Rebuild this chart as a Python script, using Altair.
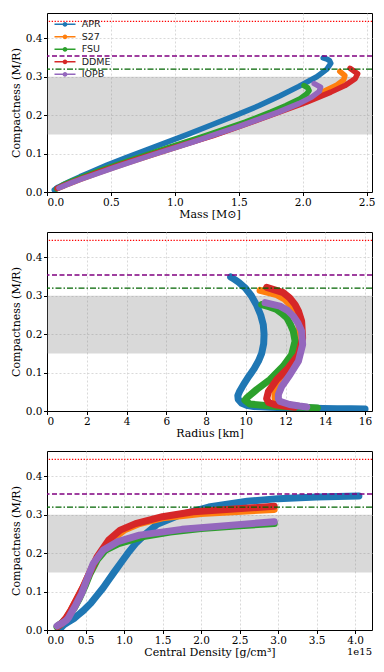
import altair as alt
import pandas as pd

EOS_NAMES = ["APR", "S27", "FSU", "DDME", "IOPB"]
EOS_COLORS = ["#1f77b4", "#ff7f0e", "#2ca02c", "#d62728", "#9467bd"]

# compactness C, mass M [Msun], radius R [km], central density rho [1e15 g/cm^3]
APR_C = [0.0053, 0.0057, 0.0060, 0.0065, 0.0075, 0.0085, 0.0095, 0.0115, 0.014,
         0.02, 0.03, 0.04, 0.05, 0.07, 0.09, 0.11, 0.13, 0.15,
         0.175, 0.2, 0.225, 0.25, 0.275, 0.3, 0.32, 0.335, 0.342, 0.346, 0.349]
APR_M = [0.057, 0.059, 0.059, 0.061, 0.066, 0.070, 0.072, 0.081, 0.096,
         0.133, 0.195, 0.26, 0.33, 0.47, 0.62, 0.78, 0.94, 1.10,
         1.29, 1.48, 1.66, 1.82, 1.97, 2.11, 2.19, 2.22, 2.21, 2.19, 2.16]
APR_R = [16.0, 15.3, 14.6, 13.9, 13.0, 12.2, 11.2, 10.4, 10.1,
         9.8, 9.62, 9.6, 9.68, 9.9, 10.15, 10.42, 10.64, 10.8,
         10.9, 10.92, 10.88, 10.75, 10.55, 10.28, 9.98, 9.65, 9.45, 9.33, 9.24]
APR_RHO = [0.17, 0.175, 0.18, 0.185, 0.19, 0.195, 0.20, 0.21, 0.22,
           0.27, 0.35, 0.41, 0.47, 0.57, 0.65, 0.73, 0.80, 0.87,
           0.96, 1.05, 1.15, 1.28, 1.43, 1.73, 2.1, 2.6, 3.0, 3.5, 4.05]

S27_C = [0.011, 0.014, 0.02, 0.034, 0.051, 0.077, 0.112, 0.156, 0.199, 0.234, 0.26, 0.277, 0.292, 0.303, 0.314]
S27_M = [0.095, 0.118, 0.16, 0.27, 0.41, 0.64, 0.97, 1.37, 1.73, 2.0, 2.15, 2.26, 2.32, 2.33, 2.29]
S27_R = [12.8, 12.4, 11.8, 11.47, 11.47, 11.72, 12.23, 12.6, 12.73, 12.65, 12.42, 12.23, 11.95, 11.56, 10.72]
S27_RHO = [0.15, 0.17, 0.21, 0.26, 0.31, 0.38, 0.47, 0.57, 0.69, 0.83, 1.0, 1.2, 1.5, 2.0, 2.95]

FSU_C = [0.008, 0.0097, 0.012, 0.018, 0.028, 0.034, 0.056, 0.082, 0.117, 0.147, 0.182, 0.208, 0.225, 0.243, 0.255, 0.264, 0.271, 0.277]
FSU_M = [0.074, 0.085, 0.094, 0.124, 0.19, 0.235, 0.41, 0.64, 0.96, 1.24, 1.55, 1.75, 1.87, 1.98, 2.03, 2.05, 2.04, 2.01]
FSU_R = [13.6, 12.9, 11.56, 10.2, 9.96, 10.05, 10.55, 11.22, 11.89, 12.31, 12.48, 12.39, 12.25, 12.06, 11.8, 11.56, 11.2, 10.8]
FSU_RHO = [0.13, 0.14, 0.15, 0.19, 0.24, 0.27, 0.35, 0.42, 0.50, 0.56, 0.65, 0.76, 0.93, 1.25, 1.6, 2.0, 2.45, 2.95]

DDME_C = [0.0095, 0.012, 0.016, 0.022, 0.032, 0.051, 0.082, 0.112, 0.147, 0.19, 0.234, 0.26, 0.277, 0.295, 0.308, 0.322]
DDME_M = [0.080, 0.098, 0.125, 0.17, 0.245, 0.40, 0.67, 0.96, 1.30, 1.67, 2.03, 2.22, 2.33, 2.41, 2.43, 2.37]
DDME_R = [12.45, 12.0, 11.5, 11.15, 11.05, 11.14, 11.56, 12.14, 12.65, 12.86, 12.81, 12.65, 12.48, 12.2, 11.89, 11.05]
DDME_RHO = [0.14, 0.16, 0.18, 0.21, 0.25, 0.31, 0.39, 0.47, 0.55, 0.65, 0.8, 0.95, 1.15, 1.5, 1.9, 2.95]

IOPB_C = [0.0105, 0.013, 0.017, 0.025, 0.032, 0.043, 0.064, 0.095, 0.13, 0.173, 0.208, 0.23, 0.247, 0.262, 0.273, 0.282]
IOPB_M = [0.093, 0.112, 0.140, 0.20, 0.255, 0.35, 0.53, 0.81, 1.14, 1.52, 1.81, 1.97, 2.07, 2.13, 2.14, 2.09]
IOPB_R = [13.07, 12.7, 12.2, 11.72, 11.64, 11.64, 11.81, 12.23, 12.65, 12.86, 12.81, 12.62, 12.39, 12.1, 11.72, 10.97]
IOPB_RHO = [0.13, 0.15, 0.19, 0.25, 0.28, 0.31, 0.37, 0.45, 0.515, 0.60, 0.73, 0.92, 1.2, 1.75, 2.4, 2.95]

# reference compactness lines and band
LIMIT_Y = [0.444, 0.354, 0.32]
BAND_Y = [0.15, 0.30]

SERIES = {
    "APR": (APR_C, APR_M, APR_R, APR_RHO),
    "S27": (S27_C, S27_M, S27_R, S27_RHO),
    "FSU": (FSU_C, FSU_M, FSU_R, FSU_RHO),
    "DDME": (DDME_C, DDME_M, DDME_R, DDME_RHO),
    "IOPB": (IOPB_C, IOPB_M, IOPB_R, IOPB_RHO),
}

rows = []
for name in EOS_NAMES:
    C, M, R, RHO = SERIES[name]
    for i in range(len(C)):
        rows.append({"eos": name, "i": i, "C": C[i], "M": M[i], "R": R[i], "rho": RHO[i]})
df = pd.DataFrame(rows)

W, H = 325, 179
YMAX = 0.466
yscale = alt.Scale(domain=[0, YMAX], nice=False, zero=False)
cscale = alt.Scale(domain=EOS_NAMES, range=EOS_COLORS)

LEGEND_PATH = ("M-1.75,-0.125L1.75,-0.125L1.75,0.125L-1.75,0.125Z"
               "M0.4,0A0.4,0.4,0,1,1,-0.4,0A0.4,0.4,0,1,1,0.4,0Z")

lim_styles = [("red", [1.3, 1.6]), ("purple", [5, 2.5]), ("darkgreen", [6, 2, 1.5, 2])]

YAXIS = alt.Axis(values=[0, 0.1, 0.2, 0.3, 0.4], format=".1f",
                 title="Compactness (M/R)", titlePadding=4, grid=True)


def panel(xfield, xtitle, xmax, xvals, xfmt, lw, legend=False, offset_text=None):
    xscale = alt.Scale(domain=[0, xmax], nice=False, zero=False)
    xaxis = alt.Axis(values=xvals, format=xfmt, title=xtitle, titlePadding=1,
                     grid=True)
    band_df = pd.DataFrame({"lo": [BAND_Y[0]], "hi": [BAND_Y[1]]})
    band = alt.Chart(band_df).mark_rect(color="#808080", opacity=0.3).encode(
        x=alt.value(0), x2=alt.value(W),
        y=alt.Y("lo:Q", scale=yscale, axis=YAXIS), y2="hi:Q")
    layers = [band]
    if legend:
        pts = alt.Chart(df).mark_point(filled=True, size=10, opacity=1).encode(
            x=alt.X(f"{xfield}:Q", scale=xscale, axis=xaxis),
            y=alt.Y("C:Q", scale=yscale, axis=YAXIS),
            color=alt.Color("eos:N", scale=cscale, sort=EOS_NAMES, legend=alt.Legend(
                title=None, orient="none", legendX=12, legendY=5.3,
                symbolType=LEGEND_PATH, symbolSize=144, symbolStrokeWidth=0,
                labelFont="DejaVu Sans", labelFontSize=9.5, labelColor="#222",
                labelOffset=10.7, rowPadding=1.5, padding=0)))
        layers.append(pts)
    for k, name in enumerate(EOS_NAMES):
        ln = alt.Chart(df).transform_filter(alt.datum.eos == name).mark_line(
            color=EOS_COLORS[k], strokeWidth=lw, strokeCap="round",
            strokeJoin="round", clip=True).encode(
            x=alt.X(f"{xfield}:Q", scale=xscale, axis=xaxis),
            y=alt.Y("C:Q", scale=yscale, axis=YAXIS),
            order=alt.Order("i:Q"))
        layers.append(ln)
    for v, (col, dash) in zip(LIMIT_Y, lim_styles):
        r = alt.Chart(pd.DataFrame({"yv": [v]})).mark_rule(
            color=col, strokeDash=dash, strokeWidth=1.3).encode(
            y=alt.Y("yv:Q", scale=yscale, axis=YAXIS))
        layers.append(r)
    if offset_text:
        t = alt.Chart(pd.DataFrame({"t": [offset_text]})).mark_text(
            align="right", baseline="middle", font="DejaVu Serif",
            fontSize=10, color="black").encode(
            x=alt.value(W), y=alt.value(H + 21.5), text="t:N")
        layers.append(t)
    return alt.layer(*layers).properties(width=W, height=H)


p1 = panel("M", "Mass [M⊙]", 2.542, [0, 0.5, 1.0, 1.5, 2.0, 2.5], ".1f", 5.5, legend=True)
p2 = panel("R", "Radius [km]", 16.35, [0, 2, 4, 6, 8, 10, 12, 14, 16], "d", 7)
p3 = panel("rho", "Central Density [g/cm³]", 4.22,
           [0, 0.5, 1.0, 1.5, 2.0, 2.5, 3.0, 3.5, 4.0], ".1f", 7, offset_text="1e15")

chart = alt.vconcat(p1, p2, p3, spacing=40, bounds="flush").properties(
    padding={"left": 1, "top": 4, "right": 0, "bottom": 0}
).configure_view(stroke="black", strokeWidth=1).configure_axis(
    labelFont="DejaVu Serif", labelFontSize=10.5, labelColor="black",
    titleFont="DejaVu Serif", titleFontSize=11, titleFontWeight="normal",
    titleColor="black", tickColor="black", domainColor="black", tickSize=3.5,
    labelPadding=1.5, gridColor="#cfcfcf", gridDash=[2, 2], gridWidth=0.8,
    domainWidth=1)

chart.save("out.html", embed_options={"renderer": "svg", "actions": False})
